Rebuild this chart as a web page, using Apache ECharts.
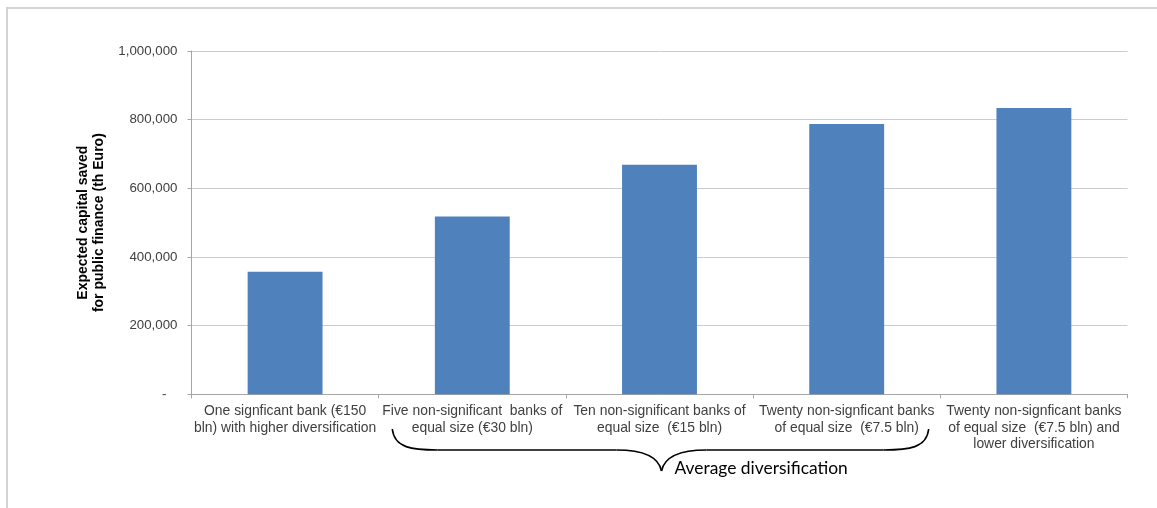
<!DOCTYPE html>
<html>
<head>
<meta charset="utf-8">
<script src="https://cdn.jsdelivr.net/npm/echarts@6/dist/echarts.min.js"></script>
<style>
  html, body { margin: 0; padding: 0; background: #fff; }
  #chart { width: 1157px; height: 508px; }
</style>
</head>
<body>
<div id="chart"></div>
<script>
// Scenario categories (x axis)
const categories = [
  'One signficant bank (€150\nbln) with higher diversification',
  'Five non-significant  banks of\nequal size (€30 bln)',
  'Ten non-significant banks of\nequal size  (€15 bln)',
  'Twenty non-signficant banks\nof equal size  (€7.5 bln)',
  'Twenty non-signficant banks\nof equal size  (€7.5 bln) and\nlower diversification'
];

// Expected capital saved for public finance, thousand euro
const capitalSaved = [357000, 518000, 669000, 787000, 834000];

// Value axis ticks
const yTicks = [0, 200000, 400000, 600000, 800000, 1000000];

const yAxisTitle = 'Expected capital saved\nfor public finance (th Euro)';
const braceLabel = 'Average diversification';
// Categories spanned by the brace (first, middle, last index)
const braceSpan = [1, 2, 3];

const chart = echarts.init(document.getElementById('chart'), null, { renderer: 'canvas' });

const fmt = v => v === 0 ? '-   ' : v.toLocaleString('en-US');
const sans = 'Liberation Sans, Arial, sans-serif';

chart.setOption({
  animation: false,
  backgroundColor: '#ffffff',
  grid: { left: 191.5, right: 29.5, top: 51, bottom: 113.7, containLabel: false },
  xAxis: {
    type: 'category',
    data: categories,
    axisLine: { show: true, lineStyle: { color: '#a6a6a6', width: 1 } },
    axisTick: { show: true, length: 4, lineStyle: { color: '#a6a6a6' } },
    axisLabel: {
      interval: 0,
      margin: 9,
      color: '#404040',
      fontFamily: sans,
      fontSize: 13.9,
      lineHeight: 16.5
    },
    splitLine: { show: false }
  },
  yAxis: {
    type: 'value',
    min: yTicks[0],
    max: yTicks[yTicks.length - 1],
    interval: yTicks[1] - yTicks[0],
    name: yAxisTitle,
    nameLocation: 'middle',
    nameRotate: 90,
    nameGap: 82,
    nameTextStyle: {
      color: '#000000',
      fontFamily: sans,
      fontWeight: 'bold',
      fontSize: 14,
      lineHeight: 16
    },
    axisLine: { show: true, lineStyle: { color: '#a6a6a6', width: 1 } },
    axisTick: { show: true, length: 4, lineStyle: { color: '#a6a6a6' } },
    axisLabel: {
      margin: 14,
      color: '#404040',
      fontFamily: sans,
      fontSize: 13.3,
      formatter: fmt
    },
    splitLine: { show: true, lineStyle: { color: '#cccccc', width: 1 } }
  },
  series: [{
    type: 'bar',
    data: capitalSaved,
    barWidth: '40%',
    itemStyle: { color: '#4f81bd' }
  }]
});

// Brace under the average-diversification scenarios, placed from the axis scale
function drawBrace() {
  const left = chart.convertToPixel({ xAxisIndex: 0 }, braceSpan[0]) - 80;
  const tipX = chart.convertToPixel({ xAxisIndex: 0 }, braceSpan[1]) + 2;
  const right = chart.convertToPixel({ xAxisIndex: 0 }, braceSpan[2]) + 82;
  const yTop = 429, yMid = 450, yTip = 471;
  const stroke = { fill: 'none', stroke: '#000000', lineWidth: 1.6 };
  const curve = (x1, y1, cx1, cy1, cx2, cy2, x2, y2) => ({
    type: 'bezierCurve', silent: true,
    shape: { x1: x1, y1: y1, cpx1: cx1, cpy1: cy1, cpx2: cx2, cpy2: cy2, x2: x2, y2: y2 },
    style: stroke
  });
  const seg = (x1, x2, y) => ({
    type: 'line', silent: true,
    shape: { x1: x1, y1: y, x2: x2, y2: y },
    style: stroke
  });

  chart.setOption({
    graphic: [
      {
        type: 'rect',
        shape: { x: 7, y: 8, width: 1200, height: 600 },
        style: { fill: 'none', stroke: '#d4d4d4', lineWidth: 2 },
        silent: true
      },
      curve(left, yTop, left + 2, yMid - 2, left + 20, yMid, left + 45, yMid),
      seg(left + 45, tipX - 45, yMid),
      curve(tipX - 45, yMid, tipX - 20, yMid, tipX - 3, yMid + 6, tipX, yTip),
      curve(tipX, yTip, tipX + 3, yMid + 6, tipX + 20, yMid, tipX + 45, yMid),
      seg(tipX + 45, right - 45, yMid),
      curve(right - 45, yMid, right - 20, yMid, right - 2, yMid - 2, right, yTop),
      {
        type: 'text',
        x: tipX + 13,
        y: 477,
        silent: true,
        style: {
          text: braceLabel,
          fill: '#000000',
          font: '17.4px Lato, "Open Sans", sans-serif',
          textVerticalAlign: 'bottom'
        }
      }
    ]
  });
}
drawBrace();
</script>
</body>
</html>
